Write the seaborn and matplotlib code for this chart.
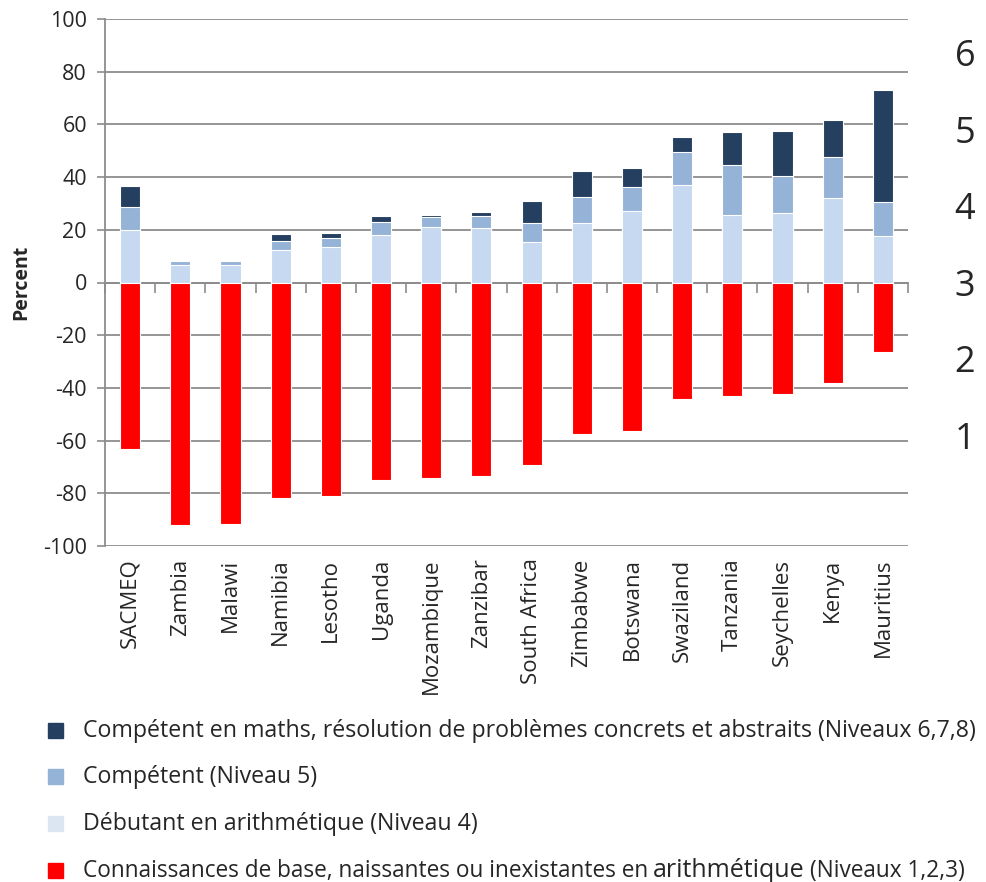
"""SACMEQ : répartition des élèves par niveau de compétence en mathématiques."""

import numpy as np
import pandas as pd
import matplotlib
matplotlib.use("Agg")
import matplotlib.pyplot as plt
from matplotlib.patches import Rectangle
import seaborn as sns

# ── Données ─────────────────────────────────────────────────────
pays = ["SACMEQ", "Zambia", "Malawi", "Namibia", "Lesotho", "Uganda",
        "Mozambique", "Zanzibar", "South Africa", "Zimbabwe", "Botswana",
        "Swaziland", "Tanzania", "Seychelles", "Kenya", "Mauritius"]
niv4 = [20.0, 6.6, 6.7, 12.3, 13.5, 18.0, 21.0, 20.6, 15.3, 22.5, 27.1,
        37.0, 25.6, 26.3, 32.0, 17.8]
niv5 = [8.5, 1.5, 1.4, 3.3, 3.5, 5.0, 3.7, 4.6, 7.1, 9.8, 9.1,
        12.7, 19.1, 14.3, 15.5, 12.7]
niv678 = [8.3, 0.1, 0.3, 2.8, 1.7, 2.1, 1.1, 1.4, 8.4, 10.2, 7.3,
          5.7, 12.3, 17.0, 14.0, 42.5]
niv123 = [63.1, 91.9, 91.8, 81.7, 81.1, 74.9, 74.2, 73.4, 69.2, 57.4, 56.3,
          44.2, 43.0, 42.3, 38.2, 26.5]
y_ticks = list(range(-100, 101, 20))
niveaux_droite = ["6", "5", "4", "3", "2", "1"]
legende = [
    "Compétent en maths, résolution de problèmes concrets et abstraits (Niveaux 6,7,8)",
    "Compétent (Niveau 5)",
    "Débutant en arithmétique (Niveau 4)",
]
legende_base = ["Connaissances de base, naissantes ou inexistantes en", "arithmétique",
                "(Niveaux 1,2,3)"]

DARK, MED, LIGHT, RED = "#243F60", "#95B3D7", "#C6D9F1", "#FF0000"
GRID = "#8C8C8C"

sns.set_style("white")
plt.rcParams["font.family"] = ["Open Sans", "DejaVu Sans"]
plt.rcParams["axes.unicode_minus"] = False

df = pd.DataFrame({"pays": pays, "n4": niv4, "n5": niv5, "n678": niv678, "n123": niv123})
df["cum5"] = df["n4"] + df["n5"]
df["cum678"] = df["cum5"] + df["n678"]
df["neg"] = -df["n123"]

W, H = 986, 882
fig = plt.figure(figsize=(W / 100, H / 100), dpi=100)
ax = fig.add_axes([105 / W, 1 - 546 / H, (908 - 105) / W, (546 - 19) / H])

# barres empilées : on superpose du plus haut au plus bas
for col, color in [("cum678", DARK), ("cum5", MED), ("n4", LIGHT), ("neg", RED)]:
    sns.barplot(data=df, x="pays", y=col, color=color, saturation=1, width=0.4,
                errorbar=None, edgecolor="white", linewidth=0.8, ax=ax, zorder=2)

ax.set_ylim(-100, 100)
ax.set_xlim(-0.5, len(pays) - 0.5)
ax.set_yticks(y_ticks)
ax.tick_params(axis="y", labelsize=15.5, length=6, width=1.2, color=GRID, pad=7, left=True)
ax.yaxis.grid(True, color=GRID, linewidth=1.3)
ax.set_axisbelow(True)
for s in ["top", "right"]:
    ax.spines[s].set_visible(False)
ax.spines["left"].set_color(GRID)
ax.spines["left"].set_linewidth(1.3)
ax.spines["bottom"].set_position(("data", 0))
ax.spines["bottom"].set_color(GRID)
ax.spines["bottom"].set_linewidth(1.3)
ax.spines["bottom"].set_zorder(1.5)

# graduations entre catégories sur la ligne zéro
ax.set_xticks(np.arange(-0.5, len(pays), 1))
ax.set_xticklabels([])
ax.tick_params(axis="x", bottom=True, length=7, width=1.2, color=GRID, direction="out")
ax.set_xlabel("")
ax.set_ylabel("Percent", fontsize=14, fontweight="bold")
ax.yaxis.set_label_coords((31 - 105) / (908 - 105), 0.5)

sec = ax.secondary_xaxis("bottom")
sec.set_xticks(range(len(pays)))
sec.set_xticklabels(pays)
sec.tick_params(axis="x", length=0, rotation=90, labelsize=16, pad=9)
sec.spines["bottom"].set_visible(False)

# niveaux à droite
for lab, yp in zip(niveaux_droite, np.linspace(57, 440, len(niveaux_droite))):
    fig.text(965 / W, 1 - yp / H, lab, fontsize=26, ha="center", va="center")

# légende manuelle
rows_y = [730, 776, 823, 870]
for txt, color, yp in zip(legende, [DARK, MED, "#DCE6F2"], rows_y):
    fig.patches.append(Rectangle((48 / W, 1 - (yp + 7.5) / H), 15 / W, 15 / H,
                                 transform=fig.transFigure, color=color))
    fig.text(83 / W, 1 - (yp + 7) / H, txt, fontsize=16.7, va="baseline")

yp = rows_y[-1]
fig.patches.append(Rectangle((48 / W, 1 - (yp + 7.5) / H), 15 / W, 15 / H,
                             transform=fig.transFigure, color=RED))
renderer = fig.canvas.get_renderer()
x = 83 / W
for piece, size in zip(legende_base, [16.3, 18, 16.3]):
    t = fig.text(x, 1 - (yp + 7) / H, piece, fontsize=size, va="baseline")
    bb = t.get_window_extent(renderer)
    x = (bb.x1 + 5) / W

fig.savefig("out.png", dpi=100)
